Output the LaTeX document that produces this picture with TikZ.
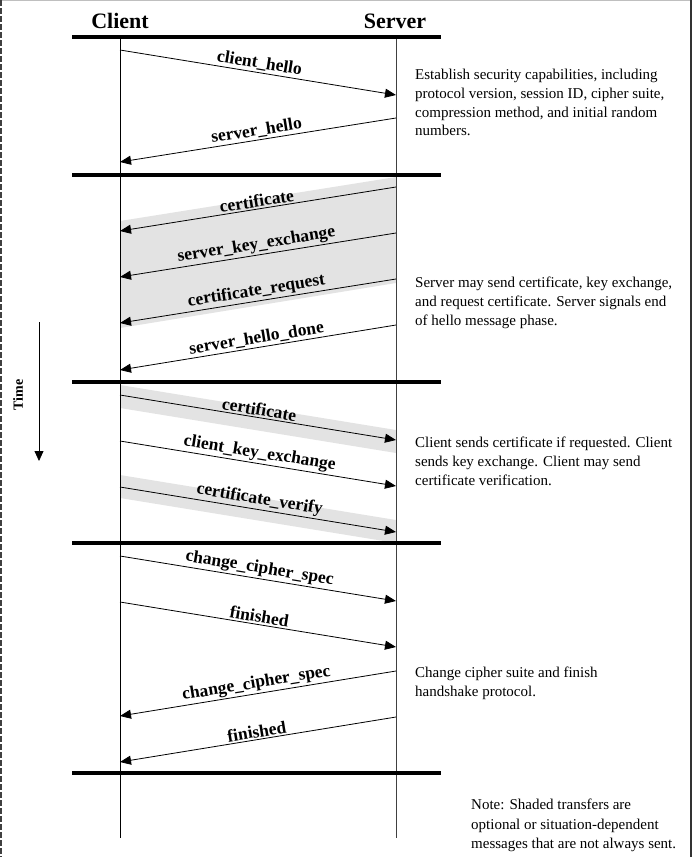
\documentclass[tikz,border=0pt]{standalone}
\usepackage{fontspec}
\setmainfont{Liberation Serif}
\usetikzlibrary{arrows.meta}
\begin{document}
\begin{tikzpicture}[x=1pt,y=-1pt,
  msg/.style={-{Triangle[length=11pt,width=9pt]}, line width=0.8pt},
  lbl/.style={sloped, above, midway, inner sep=1.5pt, font=\fontsize{17.5}{19}\selectfont\bfseries},
  phase/.style={line width=3.5pt},
  life/.style={line width=0.8pt},
  shade/.style={fill=black!11, draw=none},
  note/.style={anchor=north west, align=left, inner sep=0pt, font=\fontsize{15}{18.7}\selectfont},
  head/.style={font=\fontsize{22}{24}\selectfont\bfseries, inner sep=0pt}]
\useasboundingbox (0,0) rectangle (692,857);
% frame edges
\draw[black!25, line width=1.2pt] (0,0.6) -- (692,0.6);
\draw[black!80, line width=2pt] (691,0) -- (691,857);
\draw[black!75, line width=1.5pt, dash pattern=on 6pt off 2pt] (0.75,0) -- (0.75,857);
% headers
\node[head] (client) at (120,21) {Client};
\node[head] (server) at (395,21) {Server};
% shaded regions
\fill[shade] (396,177) -- (120,221) -- (120,328) -- (396,283) -- cycle;
\fill[shade] (120,385) -- (396,430) -- (396,453) -- (120,408) -- cycle;
\fill[shade] (120,475) -- (396,520) -- (396,543) -- (120,498) -- cycle;
% lifelines
\coordinate (ctop) at (120,37); \coordinate (cbot) at (120,838);
\coordinate (stop) at (396,37); \coordinate (sbot) at (396,838);
\draw[life] (ctop) -- (cbot);
\draw[life, black!75] (stop) -- (sbot);
% phase separators
\foreach \y/\n in {37/a,175/b,382/c,543/d,773/e}{
  \coordinate (pl\n) at (72,\y); \coordinate (pr\n) at (441,\y);
  \draw[phase] (pl\n) -- (pr\n);
}
% message endpoints
\foreach \n/\yc/\ys in {1/50/95, 2/162/118, 3/231/187, 4/277/233, 5/323/279, 6/370/325,
  7/395/440, 8/441/486, 9/487/532, 10/556/601, 11/602/647, 12/716/671, 13/762/717}{
  \coordinate (c\n) at (120,\yc); \coordinate (s\n) at (396,\ys);
}
\draw[msg] (c1) -- node[lbl] {client\_hello} (s1);
\draw[msg] (s2) -- node[lbl] {server\_hello} (c2);
\draw[msg] (s3) -- node[lbl] {certificate} (c3);
\draw[msg] (s4) -- node[lbl] {server\_key\_exchange} (c4);
\draw[msg] (s5) -- node[lbl] {certificate\_request} (c5);
\draw[msg] (s6) -- node[lbl] {server\_hello\_done} (c6);
\draw[msg] (c7) -- node[lbl] {certificate} (s7);
\draw[msg] (c8) -- node[lbl] {client\_key\_exchange} (s8);
\draw[msg] (c9) -- node[lbl] {certificate\_verify} (s9);
\draw[msg] (c10) -- node[lbl] {change\_cipher\_spec} (s10);
\draw[msg] (c11) -- node[lbl] {finished} (s11);
\draw[msg] (s12) -- node[lbl] {change\_cipher\_spec} (c12);
\draw[msg] (s13) -- node[lbl] {finished} (c13);
% descriptions
\node[note] (d1) at (415,69) {Establish security capabilities, including\\protocol version, session ID, cipher suite,\\compression method, and initial random\\numbers.};
\node[note] (d2) at (415,277) {Server may send certificate, key exchange,\\and request certificate. Server signals end\\of hello message phase.};
\node[note] (d3) at (415,437) {Client sends certificate if requested. Client\\sends key exchange. Client may send\\certificate verification.};
\node[note] (d4) at (415,667) {Change cipher suite and finish\\handshake protocol.};
\node[note, font=\fontsize{15}{19.5}\selectfont] (d5) at (471,799) {Note: Shaded transfers are\\optional or situation-dependent\\messages that are not always sent.};
% time arrow
\coordinate (t1) at (39,322); \coordinate (t2) at (39,461);
\draw[life, -{Triangle[length=10pt,width=9pt]}] (t1) -- (t2);
\node[rotate=90, font=\fontsize{14}{16}\selectfont\bfseries, inner sep=0pt] (time) at (18,395) {Time};
\end{tikzpicture}
\end{document}
